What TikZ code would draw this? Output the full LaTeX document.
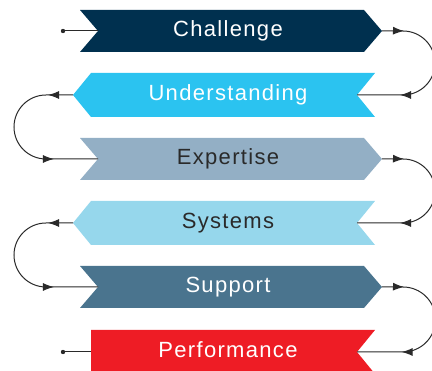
\documentclass[tikz,border=0pt]{standalone}
\usepackage{fontspec}
\setmainfont{Liberation Sans}[LetterSpace=6]
\usetikzlibrary{arrows.meta,decorations.markings}
\definecolor{cChal}{HTML}{00304F}
\definecolor{cUnd}{HTML}{2BC3F0}
\definecolor{cExp}{HTML}{93AFC5}
\definecolor{cSys}{HTML}{96D7EC}
\definecolor{cSup}{HTML}{4A748E}
\definecolor{cPerf}{HTML}{EE1C25}
\definecolor{cLine}{HTML}{2A2A2A}
\tikzset{
  lbl/.style={anchor=base,font=\fontsize{22}{24}\selectfont,inner sep=0pt},
  conn/.style={draw=cLine,line width=1pt},
  arrowhd/.style={-, decoration={markings,#1},postaction={decorate}},
}
\newcommand{\tipR}{\arrow[cLine]{Latex[length=11pt,width=8pt]}}
\begin{document}
\begin{tikzpicture}[x=1pt,y=-1pt]
\useasboundingbox (0,0) rectangle (432,371);
% Challenge (right pointing)
\fill[cChal] (80,10) -- (364,10) -- (382,31) -- (364,52) -- (80,52) -- (98,31) -- cycle;
\coordinate (chIn) at (98,31); \coordinate (chOut) at (382,31);
\node[lbl,text=white] (ch) at (228,37) {Challenge};
% Understanding (left pointing)
\fill[cUnd] (73,95) -- (91,73) -- (375,73) -- (357,95) -- (375,117) -- (91,117) -- cycle;
\coordinate (unIn) at (357,95); \coordinate (unOut) at (73,95);
\node[lbl,text=white] (un) at (228,101) {Understanding};
% Expertise
\fill[cExp] (80,138) -- (364,138) -- (382,159) -- (364,180) -- (80,180) -- (98,159) -- cycle;
\coordinate (exIn) at (98,159); \coordinate (exOut) at (382,159);
\node[lbl,text=cLine] (ex) at (228,165) {Expertise};
% Systems
\fill[cSys] (73,223) -- (91,201) -- (375,201) -- (357,223) -- (375,245) -- (91,245) -- cycle;
\coordinate (syIn) at (357,223); \coordinate (syOut) at (73,223);
\node[lbl,text=cLine] (sy) at (228,229) {Systems};
% Support
\fill[cSup] (80,266) -- (364,266) -- (382,287) -- (364,308) -- (80,308) -- (98,287) -- cycle;
\coordinate (suIn) at (98,287); \coordinate (suOut) at (382,287);
\node[lbl,text=white] (su) at (228,293) {Support};
% Performance
\fill[cPerf] (91,330) -- (375,330) -- (357,352) -- (375,374) -- (91,374) -- cycle;
\coordinate (peIn) at (357,352); \coordinate (peOut) at (91,352);
\node[lbl,text=white] (pe) at (228,358) {Performance};
% start / end
\coordinate (st) at (63,31);
\coordinate (en) at (63,352);
\draw[conn] (st) -- (chIn);
\fill[cLine] (st) circle (2.2);
\draw[conn] (peOut) -- (en);
\fill[cLine] (en) circle (2.2);
% right loops
\draw[conn,arrowhd={mark=at position 22pt with {\tipR}, mark=at position 124.5pt with {\tipR}}]
  (chOut) -- (403,31) arc[start angle=-90,end angle=90,radius=32] -- (unIn);
\draw[conn,arrowhd={mark=at position 22pt with {\tipR}, mark=at position 124.5pt with {\tipR}}]
  (exOut) -- (403,159) arc[start angle=-90,end angle=90,radius=32] -- (syIn);
\draw[conn,arrowhd={mark=at position 22pt with {\tipR}, mark=at position 124.5pt with {\tipR}}]
  (suOut) -- (403,287) arc[start angle=-90,end angle=90,radius=32.5] -- (peIn);
% left loops
\draw[conn,arrowhd={mark=at position 25pt with {\tipR}, mark=at position 135.5pt with {\tipR}}]
  (unOut) -- (46,95) arc[start angle=270,end angle=90,radius=32] -- (exIn);
\draw[conn,arrowhd={mark=at position 25pt with {\tipR}, mark=at position 135.5pt with {\tipR}}]
  (syOut) -- (46,223) arc[start angle=270,end angle=90,radius=32] -- (suIn);
\end{tikzpicture}
\end{document}
